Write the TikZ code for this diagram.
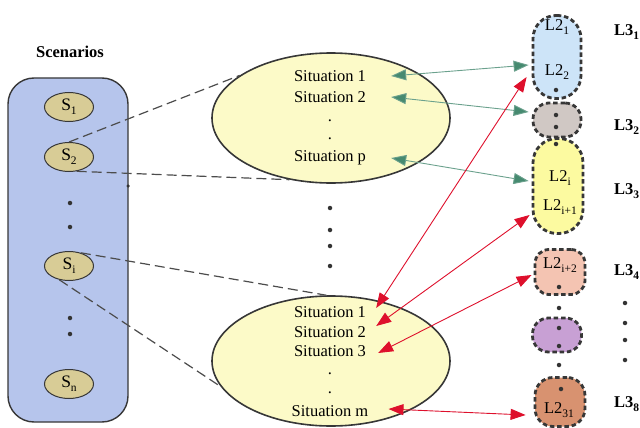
\documentclass[tikz,border=0pt]{standalone}
\usepackage{fontspec}
\setmainfont{Liberation Serif}
\usetikzlibrary{shapes.geometric,arrows.meta}
\newcommand\lsub[1]{\raisebox{-0.45ex}{\fontsize{11.5}{12}\selectfont #1}}
\definecolor{boxblue}{RGB}{182,197,236}
\definecolor{stan}{RGB}{216,204,150}
\definecolor{elly}{RGB}{252,250,200}
\definecolor{cblue}{RGB}{205,228,248}
\definecolor{cgray}{RGB}{208,200,196}
\definecolor{cyel}{RGB}{252,250,160}
\definecolor{csal}{RGB}{244,196,178}
\definecolor{cpur}{RGB}{200,160,212}
\definecolor{cbro}{RGB}{216,146,112}
\definecolor{agreen}{RGB}{70,138,112}
\definecolor{ared}{RGB}{222,16,44}
\definecolor{dgray}{RGB}{55,55,55}
\begin{document}
\begin{tikzpicture}[x=1pt,y=-1pt,
  txt/.style={font=\fontsize{16.5}{19}\selectfont, inner sep=0},
  bold/.style={font=\fontsize{16.5}{19}\selectfont\bfseries, inner sep=0},
  scen/.style={ellipse, draw=dgray, line width=1, fill=stan, minimum width=49, minimum height=29, inner sep=0, font=\fontsize{17.5}{19}\selectfont},
  situ/.style={ellipse, draw=dgray, line width=1.6, fill=elly, minimum width=238, minimum height=130, inner sep=0},
  lvl/.style={draw=dgray, line width=2.8, dash pattern=on 4.5pt off 2.8pt, inner sep=0},
  dot/.style={circle, fill=black!80, inner sep=0, minimum size=4.5},
  link/.style={draw=black!70, line width=1.2, dash pattern=on 10pt off 5pt},
  garr/.style={draw=agreen!80, line width=0.9, {Triangle[length=15pt,width=11pt,fill=agreen]}-{Triangle[length=15pt,width=11pt,fill=agreen]}},
  rarr/.style={draw=ared, line width=0.9, {Triangle[length=15pt,width=11pt]}-{Triangle[length=15pt,width=11pt]}}
]
\useasboundingbox (0,0) rectangle (640,428);

% scenarios
\node[bold] (title) at (70,52) {Scenarios};
\node[draw=dgray, line width=1.4, fill=boxblue, rounded corners=26, minimum width=120, minimum height=344] (box) at (68,250) {};
\node[scen] (S1) at (69,107) {S\lsub{1}};
\node[scen] (S2) at (69,157) {S\lsub{2}};
\node[scen] (Si) at (69,266) {S\lsub{i}};
\node[scen] (Sn) at (69,384) {S\lsub{n}};
\node[dot] (d1) at (70,203) {};
\node[dot] (d2) at (70,227) {};
\node[dot] (d3) at (70,318) {};
\node[dot] (d4) at (70,334) {};
\node[dot, minimum size=3.5] (d5) at (128,186) {};

% situation ellipses
\node[situ] (E1) at (331,118) {};
\node[situ] (E2) at (331,361) {};
\node[txt] (a1) at (330,76) {Situation 1};
\node[txt] (a2) at (330,97) {Situation 2};
\node[txt] (a3) at (330,121) {.};
\node[txt] (a4) at (330,139) {.};
\node[txt] (ap) at (330,158) {Situation p};
\node[txt] (b1) at (330,312) {Situation 1};
\node[txt] (b2) at (330,332) {Situation 2};
\node[txt] (b3) at (330,351) {Situation 3};
\node[txt] (b4) at (330,374) {.};
\node[txt] (b5) at (330,393) {.};
\node[txt] (bm) at (330,411) {Situation m};
\node[dot] (m1) at (330,208) {};
\node[dot] (m2) at (330,230) {};
\node[dot] (m3) at (330,246) {};
\node[dot] (m4) at (330,266) {};

% dashed links
\draw[link] (S2.north) -- (E1.155);
\draw[link] (S2.-62) -- (E1.236);
\draw[link] (Si.48) -- (E2.94);
\draw[link] (Si.235) -- (E2.193);

% right column
\node[lvl, fill=cblue, minimum width=48, minimum height=83, rounded corners=23] (B) at (557,57) {};
\node[lvl, fill=cgray, minimum width=48, minimum height=34, rounded corners=16] (G) at (557,120) {};
\node[lvl, fill=cyel, minimum width=50, minimum height=95, rounded corners=24] (Y) at (558,186) {};
\node[lvl, fill=csal, minimum width=50, minimum height=45, rounded corners=14] (P) at (560,272) {};
\node[lvl, fill=cpur, minimum width=49, minimum height=34, rounded corners=16] (V) at (557,335) {};
\node[lvl, fill=cbro, minimum width=50, minimum height=49, rounded corners=18] (R) at (560,402) {};

\node[txt] (l21) at (557,27) {L2\lsub{1}};
\node[txt] (l22) at (557,72) {L2\lsub{2}};
\node[txt] (l2i) at (560,178) {L2\lsub{i}};
\node[txt] (l2j) at (560,207) {L2\lsub{i+1}};
\node[txt] (l2k) at (560,265) {L2\lsub{i+2}};
\node[txt] (l2m) at (559,410) {L2\lsub{31}};

\node[dot] (r1) at (556,90) {};
\node[dot] (r2) at (556,115) {};
\node[dot] (r3) at (556,127) {};
\node[dot] (r4) at (556,144) {};
\node[dot] (r5) at (559,287) {};
\node[dot] (r6) at (559,308) {};
\node[dot] (r7) at (559,328) {};
\node[dot] (r8) at (559,346) {};
\node[dot] (r9) at (559,365) {};
\node[dot] (r10) at (561,389) {};

% L3 labels
\node[bold, anchor=west] (L31) at (614,32) {L3\lsub{1}};
\node[bold, anchor=west] (L32) at (614,127) {L3\lsub{2}};
\node[bold, anchor=west] (L33) at (614,191) {L3\lsub{3}};
\node[bold, anchor=west] (L34) at (614,272) {L3\lsub{4}};
\node[bold, anchor=west] (L38) at (614,404) {L3\lsub{8}};
\node[dot] (q1) at (625,303) {};
\node[dot] (q2) at (625,323) {};
\node[dot] (q3) at (625,340) {};
\node[dot] (q4) at (625,360) {};

% arrows
\draw[garr] ([xshift=25pt]a1.east) -- ([xshift=-3pt,yshift=-8pt]B.west);
\draw[garr] ([xshift=25pt]a2.east) -- ([xshift=-3pt,yshift=8pt]G.west);
\draw[garr] ([xshift=25pt]ap.east) -- ([xshift=-3pt,yshift=5pt]Y.west);
\draw[rarr] ([xshift=10pt,yshift=4pt]b1.east) -- ([xshift=-5pt,yshift=-20pt]B.west);
\draw[rarr] ([xshift=10pt,yshift=6pt]b2.east) -- ([xshift=-2pt,yshift=-29pt]Y.west);
\draw[rarr] ([xshift=12pt,yshift=-2pt]b3.east) -- ([xshift=-2pt,yshift=-3pt]P.west);
\draw[rarr] ([xshift=20pt,yshift=2pt]bm.east) -- ([xshift=-8pt,yshift=-13pt]R.west);
\end{tikzpicture}
\end{document}
